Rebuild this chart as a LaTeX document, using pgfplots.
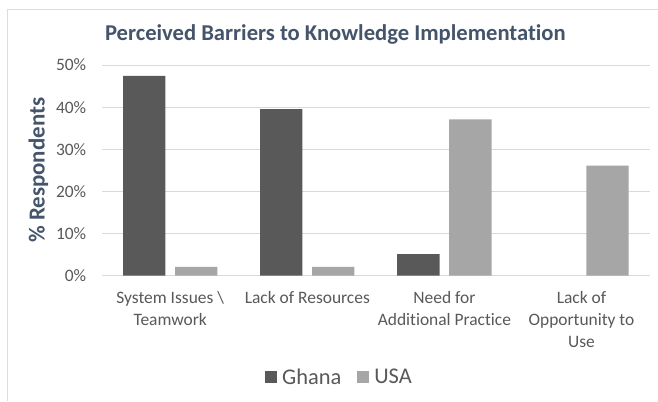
\documentclass[border=0pt]{standalone}
\usepackage{pgfplots}
\pgfplotsset{compat=1.18}
\usepackage{fontspec}
\setmainfont{Carlito}[Ligatures={NoCommon,NoRequired,NoContextual}]
\definecolor{ghana}{HTML}{595959}
\definecolor{usa}{HTML}{A6A6A6}
\definecolor{titlec}{HTML}{44546A}
\definecolor{txt}{HTML}{595959}
\definecolor{gridc}{HTML}{D9D9D9}
\definecolor{framec}{HTML}{DCDCE4}
\begin{document}
\begin{tikzpicture}[x=1bp,y=1bp]
\path[use as bounding box] (0,0) rectangle (658,401);
\fill[white] (0,0) rectangle (658,401);
\draw[framec,line width=0.8bp] (7.3,0) -- (7.3,392) -- (660,392);
\node[anchor=base,text=titlec,font=\fontsize{22.7}{26}\selectfont\bfseries] at (335.4,361) {Perceived Barriers to Knowledge Implementation};
\begin{axis}[
  at={(101.7bp,125.3bp)}, anchor=south west,
  scale only axis, width=548.3bp, height=210.7bp,
  xmin=-0.5, xmax=3.5, ymin=0, ymax=50,
  ybar, bar width=42.3bp,
  axis line style={draw=none},
  axis x line*=bottom,
  ytick={0,10,20,30,40,50},
  yticklabel={\pgfmathprintnumber{\tick}\%},
  /pgf/number format/assume math mode=true,
  ymajorgrids, grid style={gridc, line width=0.9bp},
  major tick length=0pt,
  xtick={0,1,2,3},
  xticklabels={{System Issues \textbackslash\\Teamwork},{Lack of Resources},{Need for\\Additional Practice},{Lack of\\Opportunity to\\Use}},
  xticklabel style={align=center, text=txt, font=\fontsize{17.5}{22}\selectfont, anchor=north, yshift=-12bp},
  yticklabel style={text=txt, font=\fontsize{17.5}{20}\selectfont, anchor=east, xshift=-12bp},
  ylabel={\% Respondents},
  ylabel style={text=titlec, font=\fontsize{23}{26}\selectfont\bfseries, at={(axis description cs:-0.1153,0.5)}, anchor=center},
  legend columns=2,
  legend style={draw=none, fill=none, at={(axis description cs:0.4337,-0.481)}, anchor=center,
    font=\fontsize{22.5}{26}\selectfont, text=txt,
    /tikz/every odd column/.append style={column sep=0bp},
    /tikz/every even column/.append style={column sep=14bp}},
  legend image code/.code={\fill[#1] (0bp,-6bp) rectangle (12bp,6bp);},
]
\draw[gridc,line width=0.9bp] (axis cs:-0.5,0) -- (axis cs:3.5,0);
\addplot[fill=ghana, draw=none, bar shift=-26bp] coordinates {(0,47.4) (1,39.5) (2,5.1)};
\addplot[fill=usa, draw=none, bar shift=26bp] coordinates {(0,2.1) (1,2.1) (2,37.1) (3,26.1)};
\legend{\hspace{3bp}Ghana,\hspace{3bp}USA}
\end{axis}
\end{tikzpicture}
\end{document}
